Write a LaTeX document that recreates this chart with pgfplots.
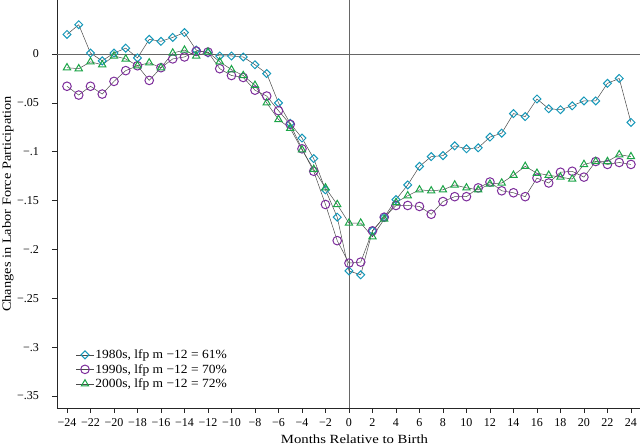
\documentclass[border=0pt]{standalone}
\usepackage{pgfplots}
\pgfplotsset{compat=1.18}
\usepackage{fontspec}
\setmainfont{Liberation Serif}[FakeStretch=1.08]
\newfontfamily\widefont{Liberation Serif}[FakeStretch=1.18]
\newfontfamily\tickfont{Liberation Serif}
\definecolor{cteal}{RGB}{22,152,185}
\definecolor{cpurple}{RGB}{125,45,155}
\definecolor{cgreen}{RGB}{28,165,72}
\definecolor{lgray}{RGB}{75,75,75}
\pgfplotstableread{
m v
-24 0.020
-23 0.030
-22 0.001
-21 -0.007
-20 0.001
-19 0.006
-18 -0.004
-17 0.015
-16 0.013
-15 0.017
-14 0.022
-13 0.004
-12 0.001
-11 -0.002
-10 -0.002
-9 -0.003
-8 -0.011
-7 -0.020
-6 -0.050
-5 -0.071
-4 -0.086
-3 -0.107
-2 -0.139
-1 -0.167
0 -0.222
1 -0.226
2 -0.181
3 -0.167
4 -0.149
5 -0.134
6 -0.115
7 -0.105
8 -0.104
9 -0.094
10 -0.097
11 -0.096
12 -0.085
13 -0.081
14 -0.061
15 -0.064
16 -0.046
17 -0.056
18 -0.057
19 -0.053
20 -0.048
21 -0.048
22 -0.030
23 -0.025
24 -0.070
}\eighties
\pgfplotstableread{
m v
-24 -0.033
-23 -0.042
-22 -0.033
-21 -0.041
-20 -0.028
-19 -0.017
-18 -0.012
-17 -0.027
-16 -0.014
-15 -0.005
-14 -0.003
-13 0.003
-12 0.002
-11 -0.015
-10 -0.022
-9 -0.024
-8 -0.037
-7 -0.043
-6 -0.058
-5 -0.072
-4 -0.097
-3 -0.120
-2 -0.154
-1 -0.191
0 -0.214
1 -0.213
2 -0.181
3 -0.167
4 -0.155
5 -0.155
6 -0.156
7 -0.164
8 -0.151
9 -0.146
10 -0.146
11 -0.137
12 -0.131
13 -0.140
14 -0.142
15 -0.146
16 -0.127
17 -0.132
18 -0.121
19 -0.120
20 -0.126
21 -0.110
22 -0.113
23 -0.111
24 -0.113
}\nineties
\pgfplotstableread{
m v
-24 -0.014
-23 -0.015
-22 -0.008
-21 -0.011
-20 -0.002
-19 -0.005
-18 -0.012
-17 -0.009
-16 -0.014
-15 0.001
-14 0.004
-13 -0.002
-12 0.002
-11 -0.008
-10 -0.016
-9 -0.022
-8 -0.032
-7 -0.050
-6 -0.067
-5 -0.076
-4 -0.098
-3 -0.118
-2 -0.137
-1 -0.154
0 -0.173
1 -0.173
2 -0.187
3 -0.169
4 -0.152
5 -0.145
6 -0.139
7 -0.140
8 -0.139
9 -0.134
10 -0.137
11 -0.139
12 -0.133
13 -0.132
14 -0.124
15 -0.115
16 -0.122
17 -0.124
18 -0.126
19 -0.128
20 -0.113
21 -0.110
22 -0.110
23 -0.103
24 -0.105
}\noughties
\begin{document}
\begin{tikzpicture}
\begin{axis}[
  width=583pt, height=408pt, scale only axis,
  xmin=-24.85, xmax=24.77, ymin=-0.3623, ymax=0.0553,
  axis x line*=bottom, axis y line*=left,
  axis line style={black!85, line width=0.7pt},
  xtick={-24,-22,...,24},
  xticklabels={−24,−22,−20,−18,−16,−14,−12,−10,−8,−6,−4,−2,0,2,4,6,8,10,12,14,16,18,20,22,24},
  ytick={0,-0.05,-0.1,-0.15,-0.2,-0.25,-0.3,-0.35},
  yticklabels={0,−.05,−.1,−.15,−.2,−.25,−.3,−.35},
  tick align=outside, major tick length=5pt,
  tick style={black!85, line width=0.6pt},
  tick label style={font=\tickfont\fontsize{12}{14}\selectfont},
  xticklabel style={anchor=base, inner sep=0pt, yshift=-13.3pt},
  yticklabel style={anchor=east, inner sep=0pt, xshift=-13pt},
  xlabel={Months Relative to Birth},
  ylabel={Changes in Labor Force Participation},
  xlabel style={font=\widefont\fontsize{12.5}{14}\selectfont, at={(axis description cs:0.5,0)}, anchor=base, inner sep=0pt, yshift=-35.8pt, xshift=6pt},
  ylabel style={font=\fontsize{12.5}{14}\selectfont\addfontfeatures{FakeStretch=1.15}, at={(axis description cs:0,0.5)}, anchor=north, inner sep=0pt, yshift=55pt},
  legend style={at={(0.0326,0.147)}, anchor=north west, draw=none, fill=none, inner sep=0pt,
    font=\fontsize{12.5}{14}\selectfont, row sep=1.2pt, nodes={inner sep=1.5pt}},
  legend cell align=left,
  every axis plot/.append style={line width=0.5pt},
]
\addplot[gray!80!black, line width=0.8pt, forget plot] coordinates {(0,-0.3623) (0,0.0553)};
\addplot[gray!80!black, line width=0.8pt, forget plot] coordinates {(-24.85,0) (24.77,0)};
\addplot[lgray, mark=square, mark size=2.8pt, mark options={draw=cteal, fill=white, line width=1pt, solid, rotate=45}] table[x=m,y=v] {\eighties};
\addlegendentry{1980s, lfp m −12 = 61\%}
\addplot[lgray, mark=o, mark size=4.3pt, mark options={draw=cpurple, fill=none, line width=1pt, solid}] table[x=m,y=v] {\nineties};
\addlegendentry{1990s, lfp m −12 = 70\%}
\addplot[lgray, mark=triangle, mark size=4.2pt, mark options={draw=cgreen, fill=white, line width=1pt, solid}] table[x=m,y=v] {\noughties};
\addlegendentry{2000s, lfp m −12 = 72\%}
\end{axis}
\pgfresetboundingbox
\path[use as bounding box] ([xshift=-57pt,yshift=-38pt]current axis.south west) rectangle ([xshift=2pt]current axis.north east);
\end{tikzpicture}
\end{document}
